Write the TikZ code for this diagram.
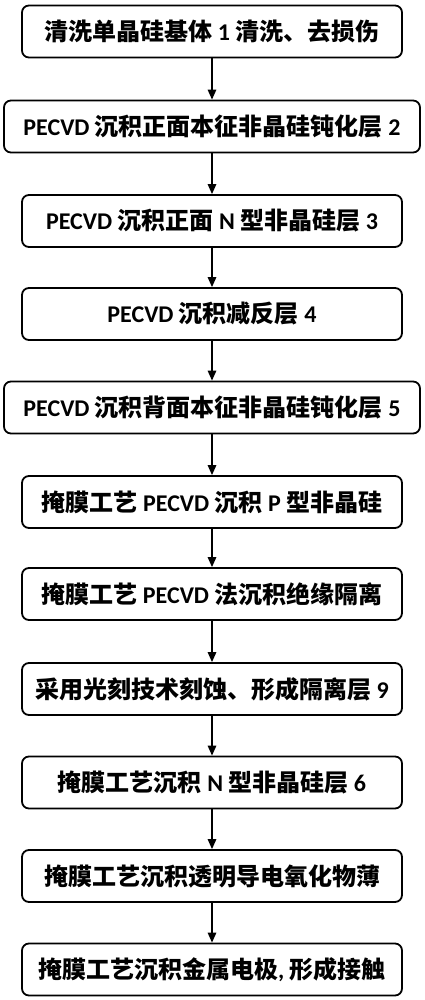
\documentclass[tikz,border=0pt]{standalone}
\usepackage{fontspec}
\setmainfont{Carlito}
\newfontfamily\cjk{Noto Sans CJK SC}
\newcommand{\C}[1]{{\cjk\bfseries #1}}
\usetikzlibrary{arrows.meta}
\begin{document}
\begin{tikzpicture}[x=1pt,y=1pt,
  stepbox/.style={draw=black,line width=1.8pt,rounded corners=7pt,minimum height=52pt,minimum width=380pt,inner sep=0pt,font=\fontsize{24}{28}\selectfont\bfseries,align=center},
  widebox/.style={stepbox,minimum width=416pt},
  flow/.style={line width=1.5pt,-{Triangle[length=10pt,width=8.5pt]}}]
\useasboundingbox (0,0) rectangle (425,-1000);
\node[stepbox] (b1) at (212,-31.5) {\C{清洗单晶硅基体} 1 \C{清洗、去损伤}};
\node[widebox] (b2) at (212,-126.5) {PECVD \C{沉积正面本征非晶硅钝化层} 2};
\node[stepbox] (b3) at (212,-221) {PECVD \C{沉积正面} N \C{型非晶硅层} 3};
\node[stepbox] (b4) at (212,-314) {PECVD \C{沉积减反层} 4};
\node[widebox] (b5) at (212,-407.5) {PECVD \C{沉积背面本征非晶硅钝化层} 5};
\node[stepbox] (b6) at (212,-502) {\C{掩膜工艺} PECVD \C{沉积} P \C{型非晶硅}};
\node[stepbox] (b7) at (212,-594) {\C{掩膜工艺} PECVD \C{法沉积绝缘隔离}};
\node[stepbox] (b8) at (212,-689) {\C{采用光刻技术刻蚀、形成隔离层} 9};
\node[stepbox] (b9) at (212,-782.5) {\C{掩膜工艺沉积} N \C{型非晶硅层} 6};
\node[stepbox] (b10) at (212,-876) {\C{掩膜工艺沉积透明导电氧化物薄}};
\node[stepbox] (b11) at (212,-969.5) {\C{掩膜工艺沉积金属电极}, \C{形成接触}};
\foreach \a/\b in {b1/b2,b2/b3,b3/b4,b4/b5,b5/b6,b6/b7,b7/b8,b8/b9,b9/b10,b10/b11}
  \draw[flow] (\a) -- (\b);
\end{tikzpicture}
\end{document}
